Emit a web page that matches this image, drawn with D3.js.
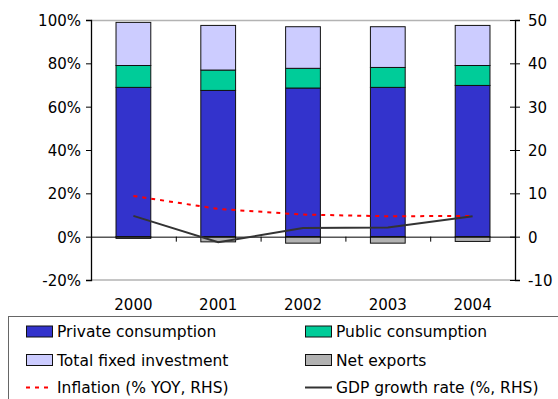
<!DOCTYPE html>
<html>
<head>
  <meta charset="UTF-8">
  <style>
    body { margin: 0; background: #fff; }
    svg text { font-family: "DejaVu Sans", Verdana, sans-serif; fill: #000; }
  </style>
</head>
<body>
  <svg width="558" height="399"></svg>
  <script src="https://cdn.jsdelivr.net/npm/d3@7"></script>
  <script>
    // data
    const years = ['2000', '2001', '2002', '2003', '2004'];
    const privateConsumption = [68.9, 67.5, 68.6, 68.9, 69.8];
    const publicConsumption = [10.1, 9.4, 9.1, 9.2, 9.2];
    const fixedInvestment = [19.9, 20.6, 19.2, 18.8, 18.5];
    const netExports = [-0.8, -2.4, -3.0, -3.0, -2.2];
    const inflation = [9.4, 6.4, 5.1, 4.7, 4.8];
    const gdpGrowth = [4.8, -1.3, 2.0, 2.1, 4.7];
    const leftTicks = [-20, 0, 20, 40, 60, 80, 100];
    const rightTicks = [-10, 0, 10, 20, 30, 40, 50];

    const seriesNames = ['Private consumption', 'Public consumption', 'Total fixed investment', 'Net exports'];
    const seriesColors = ['#3333CC', '#00CC99', '#CCCCFF', '#B2B2B2'];

    const svg = d3.select('svg');
    const margin = { left: 91, right: 43, top: 20, bottom: 119 };
    const width = 558 - margin.left - margin.right;
    const height = 399 - margin.top - margin.bottom;

    const g = svg.append('g').attr('transform', `translate(${margin.left},${margin.top})`);

    const x = d3.scaleBand().domain(years).range([0, width]).paddingInner(0.59).paddingOuter(0.295);
    const xMid = d => x(d) + x.bandwidth() / 2;
    const yL = d3.scaleLinear().domain([-20, 100]).range([height, 0]);
    const yR = d3.scaleLinear().domain([-10, 50]).range([height, 0]);

    // build table for stacking
    const rows = years.map((yr, i) => ({
      year: yr,
      [seriesNames[0]]: privateConsumption[i],
      [seriesNames[1]]: publicConsumption[i],
      [seriesNames[2]]: fixedInvestment[i],
      [seriesNames[3]]: netExports[i]
    }));
    const stacked = d3.stack().keys(seriesNames).offset(d3.stackOffsetDiverging)(rows);

    // top and bottom frame lines
    g.append('line').attr('x1', 0).attr('x2', width).attr('y1', 0.5).attr('y2', 0.5)
      .attr('stroke', '#b3b3b3').attr('stroke-width', 1.5);
    g.append('line').attr('x1', 0).attr('x2', width).attr('y1', height).attr('y2', height)
      .attr('stroke', '#b3b3b3').attr('stroke-width', 1.5);

    // bars
    g.selectAll('.series')
      .data(stacked)
      .join('g')
      .attr('fill', (d, i) => seriesColors[i])
      .selectAll('rect')
      .data(d => d)
      .join('rect')
      .attr('x', d => x(d.data.year))
      .attr('width', x.bandwidth())
      .attr('y', d => yL(d[1]))
      .attr('height', d => yL(d[0]) - yL(d[1]))
      .attr('stroke', '#111')
      .attr('stroke-width', 1);

    // zero line with category ticks
    const xAxis = g.append('g').attr('transform', `translate(0,${yL(0)})`)
      .call(d3.axisBottom(d3.scaleLinear().domain([0, years.length]).range([0, width]))
        .ticks(years.length).tickSize(5).tickFormat(''));
    xAxis.select('.domain').attr('stroke', '#000');

    // year labels
    g.selectAll('.yr')
      .data(years)
      .join('text')
      .attr('x', d => xMid(d))
      .attr('y', height + 30)
      .attr('text-anchor', 'middle')
      .attr('font-size', '15px')
      .text(d => d);

    // plain hyphen for negatives, like the original
    const fmt = d => String(d);

    // left axis
    const leftAxis = g.append('g')
      .call(d3.axisLeft(yL).tickValues(leftTicks).tickSize(5).tickPadding(5).tickFormat(d => fmt(d) + '%'));
    leftAxis.selectAll('text').attr('font-size', '15px').attr('dy', '0.36em');
    leftAxis.selectAll('.domain').attr('stroke-width', 1.3);

    // right axis
    const rightAxis = g.append('g').attr('transform', `translate(${width},0)`)
      .call(d3.axisRight(yR).tickValues(rightTicks).tickSize(5).tickPadding(8).tickFormat(fmt));
    rightAxis.selectAll('.tick line').attr('x1', -5);
    rightAxis.selectAll('text').attr('font-size', '15px').attr('dy', '0.36em');
    rightAxis.selectAll('.domain').attr('stroke-width', 1.3);

    // lines on right axis
    const line = d3.line().x((d, i) => xMid(years[i])).y(d => yR(d));
    g.append('path').datum(inflation)
      .attr('d', line).attr('fill', 'none')
      .attr('stroke', '#ff0000').attr('stroke-width', 2).attr('stroke-dasharray', '4,5');
    g.append('path').datum(gdpGrowth)
      .attr('d', line).attr('fill', 'none')
      .attr('stroke', '#333').attr('stroke-width', 2);

    // legend
    const legend = svg.append('g');
    legend.append('rect')
      .attr('x', 8.5).attr('y', 316.5).attr('width', 560).attr('height', 100)
      .attr('fill', 'none').attr('stroke', '#666').attr('stroke-width', 1);

    const legendItems = [
      { name: seriesNames[0], color: seriesColors[0], type: 'box' },
      { name: seriesNames[1], color: seriesColors[1], type: 'box' },
      { name: seriesNames[2], color: seriesColors[2], type: 'box' },
      { name: seriesNames[3], color: seriesColors[3], type: 'box' },
      { name: 'Inflation (% YOY, RHS)', color: '#ff0000', type: 'dash' },
      { name: 'GDP growth rate (%, RHS)', color: '#333', type: 'line' }
    ];
    const colX = [26, 305];
    const rowY = [331.5, 360, 387.5];

    const items = legend.selectAll('.item')
      .data(legendItems)
      .join('g')
      .attr('transform', (d, i) => `translate(${colX[i % 2]},${rowY[Math.floor(i / 2)]})`);

    items.filter(d => d.type === 'box').append('rect')
      .attr('x', 0.5).attr('y', -5.5).attr('width', 26).attr('height', 11)
      .attr('fill', d => d.color).attr('stroke', '#111');
    items.filter(d => d.type !== 'box').append('line')
      .attr('x1', 0).attr('x2', 27).attr('y1', 0).attr('y2', 0)
      .attr('stroke', d => d.color).attr('stroke-width', 2)
      .attr('stroke-dasharray', d => d.type === 'dash' ? '4,5' : null);
    items.append('text')
      .attr('x', 31).attr('y', 0).attr('dy', '0.36em')
      .attr('font-size', '15.5px')
      .text(d => d.name);
  </script>
</body>
</html>
